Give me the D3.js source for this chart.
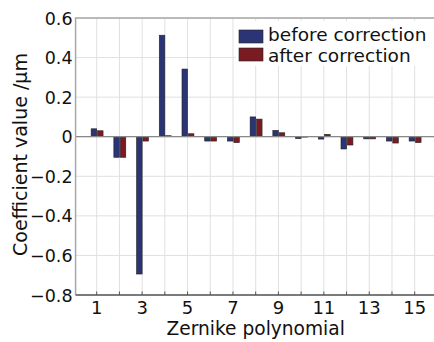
<!DOCTYPE html>
<html lang="en">
<head>
<meta charset="UTF-8">
<title>Zernike coefficients</title>
<script src="https://cdnjs.cloudflare.com/ajax/libs/d3/7.8.5/d3.min.js"></script>
<style>
  body { margin: 0; background: #fff; }
  #chart text { font-family: "DejaVu Sans", sans-serif; }
</style>
</head>
<body>
<svg id="chart" width="434" height="342"></svg>
<script>
// Zernike term index and coefficient values (um)
const terms = [1, 2, 3, 4, 5, 6, 7, 8, 9, 10, 11, 12, 13, 14, 15];
const before = [0.04, -0.104, -0.694, 0.513, 0.342, -0.022, -0.022, 0.10, 0.032, -0.01, -0.012, -0.062, -0.011, -0.022, -0.022];
const after = [0.03, -0.104, -0.022, 0.005, 0.015, -0.022, -0.03, 0.089, 0.02, -0.002, 0.012, -0.042, -0.011, -0.032, -0.03];
const xTicks = [1, 3, 5, 7, 9, 11, 13, 15];
const yTicks = [-0.8, -0.6, -0.4, -0.2, 0, 0.2, 0.4, 0.6];
const seriesNames = ["before correction", "after correction"];
const seriesColors = ["#2b3575", "#7a1b24"];

const svg = d3.select("#chart");

// scales: tick 1 sits at x~97, tick 15 at x~415
const x = d3.scaleLinear().domain([1, 15]).range([96.7, 414.7]);
const y = d3.scaleLinear().domain([-0.8, 0.6]).range([295, 18]);
const left = x(0.07), right = x(15.95);
const barW = (x(2) - x(1)) * 0.245;

// grid
svg.append("g")
  .selectAll("line")
  .data(terms)
  .join("line")
  .attr("x1", d => x(d)).attr("x2", d => x(d))
  .attr("y1", y(0.6)).attr("y2", y(-0.8))
  .attr("stroke", "#e0e0e0").attr("stroke-width", 1);

svg.append("g")
  .selectAll("line")
  .data(yTicks)
  .join("line")
  .attr("x1", left).attr("x2", right)
  .attr("y1", d => y(d)).attr("y2", d => y(d))
  .attr("stroke", "#e0e0e0").attr("stroke-width", 1);

// bars
const series = [before, after];
series.forEach((vals, si) => {
  svg.append("g")
    .selectAll("rect")
    .data(vals)
    .join("rect")
    .attr("x", (d, i) => si === 0 ? x(terms[i]) - barW : x(terms[i]) + 0.8)
    .attr("width", barW)
    .attr("y", d => y(Math.max(0, d)))
    .attr("height", d => Math.abs(y(d) - y(0)))
    .attr("fill", seriesColors[si])
    .attr("stroke", "#222")
    .attr("stroke-width", 0.6);
});

// zero line
svg.append("line")
  .attr("x1", left).attr("x2", right)
  .attr("y1", y(0)).attr("y2", y(0))
  .attr("stroke", "#888").attr("stroke-width", 1.2);

// frame: top and left border
svg.append("path")
  .attr("d", `M${right},${y(0.6)}H${left}V${y(-0.8)}`)
  .attr("fill", "none").attr("stroke", "#a8a8a8").attr("stroke-width", 1.5);

// bottom axis
const xAxis = svg.append("g")
  .attr("transform", `translate(0,${y(-0.8)})`);
xAxis.append("line")
  .attr("x1", left).attr("x2", right)
  .attr("stroke", "#555").attr("stroke-width", 1.3);
xAxis.selectAll(".tick")
  .data(terms)
  .join("line")
  .attr("x1", d => x(d)).attr("x2", d => x(d))
  .attr("y1", 0).attr("y2", -3.5)
  .attr("stroke", "#555");
xAxis.selectAll("text")
  .data(xTicks)
  .join("text")
  .attr("x", d => x(d))
  .attr("y", 19)
  .attr("text-anchor", "middle")
  .attr("font-size", 18)
  .attr("fill", "#111")
  .text(d => d);

// y tick labels
svg.append("g")
  .selectAll("text")
  .data(yTicks)
  .join("text")
  .attr("x", left - 3)
  .attr("y", d => y(d) + 6.5)
  .attr("text-anchor", "end")
  .attr("font-size", 17.5)
  .attr("fill", "#111")
  .text(d => d3.format("~g")(d));

// axis titles
svg.append("text")
  .attr("x", (x(1) + x(15)) / 2)
  .attr("y", 335)
  .attr("text-anchor", "middle")
  .attr("font-size", 18.6)
  .attr("fill", "#111")
  .text("Zernike polynomial");

svg.append("text")
  .attr("transform", `translate(27,${(y(0.6) + y(-0.8)) / 2 - 2}) rotate(-90)`)
  .attr("text-anchor", "middle")
  .attr("font-size", 19)
  .attr("fill", "#111")
  .text("Coefficient value /\u03bcm");

// legend
const legend = svg.append("g").attr("transform", "translate(236,21)");
legend.append("rect")
  .attr("x", 0).attr("y", 0)
  .attr("width", right - 236).attr("height", 45)
  .attr("fill", "#fff");
seriesNames.forEach((name, i) => {
  legend.append("rect")
    .attr("x", 3).attr("y", 9 + i * 18)
    .attr("width", 24).attr("height", 13)
    .attr("fill", seriesColors[i])
    .attr("stroke", "#222").attr("stroke-width", 0.6);
  legend.append("text")
    .attr("x", 32).attr("y", 20 + i * 21)
    .attr("font-size", 18.5)
    .attr("fill", "#111")
    .text(name);
});
</script>
</body>
</html>
